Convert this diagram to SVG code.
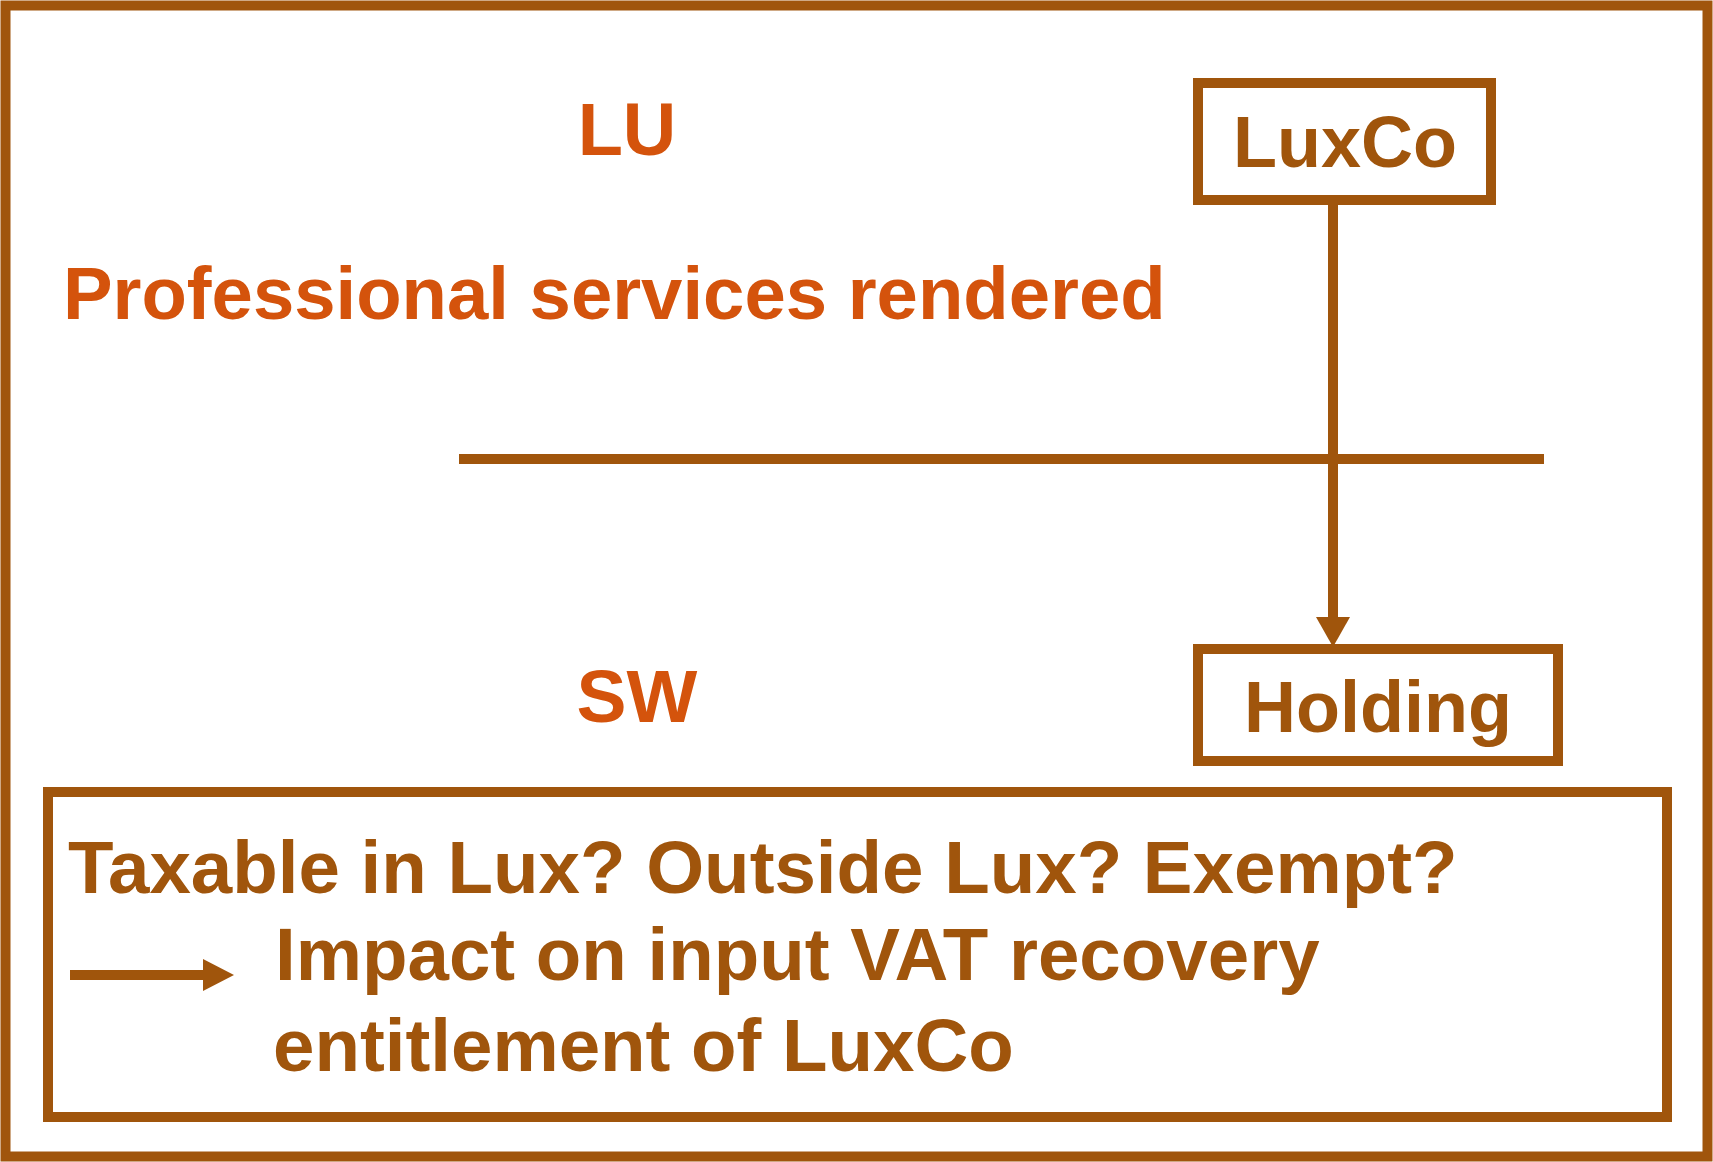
<svg xmlns="http://www.w3.org/2000/svg" width="1713" height="1162" viewBox="0 0 1713 1162">
<style>
.box{fill:none;stroke:#A0550C;stroke-width:10}
.ln{stroke:#A0550C;stroke-width:10;fill:none}
.br{fill:#A0550C;font-family:"Liberation Sans",Arial,sans-serif;font-weight:bold}
.or{fill:#D4530C;font-family:"Liberation Sans",Arial,sans-serif;font-weight:bold}
</style>
<rect width="1713" height="1162" fill="#fff"/>
<rect class="box" x="5.5" y="5.5" width="1702" height="1151"/>
<g id="labels">
<text class="or" x="627" y="155" font-size="74" text-anchor="middle">LU</text>
<text class="or" x="63" y="319" font-size="74.3">Professional services rendered</text>
<text class="or" x="637" y="722" font-size="75" text-anchor="middle">SW</text>
</g>
<g id="border">
<line class="ln" x1="459" y1="459" x2="1544" y2="459"/>
</g>
<g id="luxco">
<rect class="box" x="1198" y="83" width="293" height="117"/>
<text class="br" x="1345" y="167" font-size="72" text-anchor="middle">LuxCo</text>
</g>
<g id="holding">
<rect class="box" x="1198" y="649" width="360" height="112"/>
<text class="br" x="1378" y="732" font-size="72" text-anchor="middle">Holding</text>
</g>
<g id="connectors">
<line class="ln" x1="1333" y1="200" x2="1333" y2="620"/>
<polygon points="1316,617 1350,617 1333,647" fill="#A0550C"/>
</g>
<g id="note">
<rect class="box" x="48" y="792" width="1619" height="325"/>
<text class="br" x="68" y="893" font-size="74.5">Taxable in Lux? Outside Lux? Exempt?</text>
<line class="ln" x1="70" y1="975" x2="205" y2="975"/>
<polygon points="203,959 234,975 203,991" fill="#A0550C"/>
<text class="br" x="275" y="980" font-size="74.5">Impact on input VAT recovery</text>
<text class="br" x="273" y="1071" font-size="74.5">entitlement of LuxCo</text>
</g>
</svg>
